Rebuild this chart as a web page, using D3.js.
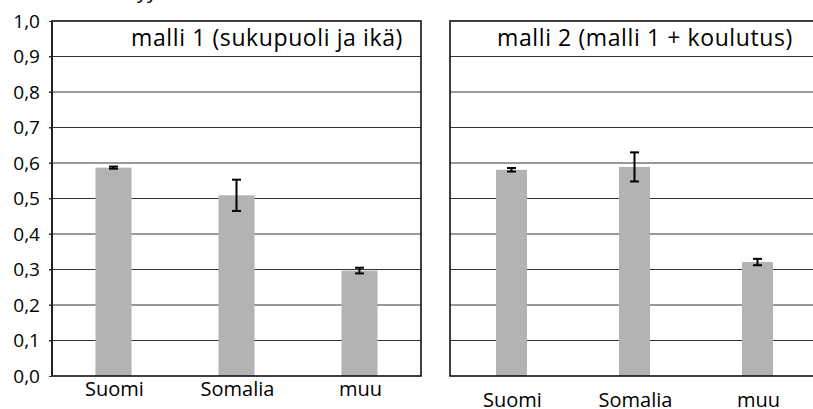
<!DOCTYPE html>
<html>
<head>
<meta charset="utf-8">
<script src="https://cdn.jsdelivr.net/npm/d3@7"></script>
<style>
    body { margin: 0; background: #fff; }
    svg text { font-family: "Open Sans", "Noto Sans", sans-serif; fill: #000; }
</style>
</head>
<body>
<svg id="chart" width="813" height="409"></svg>
<script>
// data
var categories = ["Suomi", "Somalia", "muu"];
var yTicks = [0, 0.1, 0.2, 0.3, 0.4, 0.5, 0.6, 0.7, 0.8, 0.9, 1.0];
var titles = ["malli 1 (sukupuoli ja ikä)", "malli 2 (malli 1 + koulutus)"];
var model1 = [0.587, 0.509, 0.297];
var model1Err = [0.003, 0.044, 0.008];
var model2 = [0.581, 0.589, 0.321];
var model2Err = [0.005, 0.041, 0.009];

var svg = d3.select("#chart");
var fmt = function (d) { return d3.format(".1f")(d).replace(".", ","); };

var y = d3.scaleLinear().domain([0, 1]).range([376, 21]);

// cut off heading at the very top
svg.append("text")
    .attr("x", 137)
    .attr("y", -2)
    .style("font-size", "20px")
    .text("yy");

function drawPanel(opts) {
    var x = d3.scaleBand()
        .domain(categories)
        .range([opts.left, opts.right])
        .paddingInner(opts.pad)
        .paddingOuter(opts.pad / 2);

    var g = svg.append("g");

    // gridlines
    g.selectAll("line.grid")
        .data(yTicks.slice(1, -1))
        .enter().append("line")
        .attr("class", "grid")
        .attr("x1", opts.left - (opts.axis ? 3 : 0))
        .attr("x2", opts.right)
        .attr("y1", function (d) { return y(d); })
        .attr("y2", function (d) { return y(d); })
        .attr("stroke", "#333")
        .attr("stroke-width", 1);

    // bars
    g.selectAll("rect.bar")
        .data(opts.values)
        .enter().append("rect")
        .attr("class", "bar")
        .attr("x", function (d, i) { return x(categories[i]); })
        .attr("width", x.bandwidth())
        .attr("y", function (d) { return y(d); })
        .attr("height", function (d) { return y(0) - y(d); })
        .attr("fill", "#b3b3b3");

    // error bars
    var eb = g.selectAll("g.err")
        .data(opts.values)
        .enter().append("g")
        .attr("class", "err")
        .attr("transform", function (d, i) {
            return "translate(" + (x(categories[i]) + x.bandwidth() / 2) + ",0)";
        });
    eb.append("line")
        .attr("y1", function (d, i) { return y(d + opts.err[i]); })
        .attr("y2", function (d, i) { return y(d - opts.err[i]); })
        .attr("stroke", "#000").attr("stroke-width", 2);
    eb.append("line")
        .attr("x1", -4.5).attr("x2", 4.5)
        .attr("y1", function (d, i) { return y(d + opts.err[i]); })
        .attr("y2", function (d, i) { return y(d + opts.err[i]); })
        .attr("stroke", "#000").attr("stroke-width", 2);
    eb.append("line")
        .attr("x1", -4.5).attr("x2", 4.5)
        .attr("y1", function (d, i) { return y(d - opts.err[i]); })
        .attr("y2", function (d, i) { return y(d - opts.err[i]); })
        .attr("stroke", "#000").attr("stroke-width", 2);

    // frame
    g.append("rect")
        .attr("x", opts.left)
        .attr("y", y(1))
        .attr("width", opts.right - opts.left)
        .attr("height", y(0) - y(1))
        .attr("fill", "none")
        .attr("stroke", "#111")
        .attr("stroke-width", 1.6);

    // title
    g.append("text")
        .attr("x", opts.titleX)
        .attr("y", 46)
        .attr("text-anchor", "middle")
        .style("font-size", "23px")
        .style("letter-spacing", "0.6px")
        .text(opts.title);

    // category labels
    g.selectAll("text.cat")
        .data(categories)
        .enter().append("text")
        .attr("class", "cat")
        .attr("x", function (d) { return x(d) + x.bandwidth() / 2 + 1; })
        .attr("y", opts.labelY)
        .attr("text-anchor", "middle")
        .style("font-size", "20px")
        .text(function (d) { return d; });

    if (opts.axis) {
        var axis = d3.axisLeft(y)
            .tickValues(yTicks)
            .tickFormat(fmt)
            .tickSize(3)
            .tickPadding(9);
        var ag = svg.append("g")
            .attr("transform", "translate(" + opts.left + ",0)")
            .call(axis);
        ag.select(".domain").remove();
        ag.selectAll("text").style("font-size", "19px").attr("fill", "#000");
        ag.selectAll("line").attr("stroke", "#333");
        svg.append("line")
            .attr("x1", opts.left).attr("x2", opts.left)
            .attr("y1", y(1)).attr("y2", y(0))
            .attr("stroke", "#222").attr("stroke-width", 2);
    }
}

drawPanel({ left: 52, right: 421, pad: 0.707, values: model1, err: model1Err,
    title: titles[0], titleX: 267, labelY: 396, axis: true });
drawPanel({ left: 450, right: 819, pad: 0.748, values: model2, err: model2Err,
    title: titles[1], titleX: 645, labelY: 407, axis: false });
</script>
</body>
</html>
